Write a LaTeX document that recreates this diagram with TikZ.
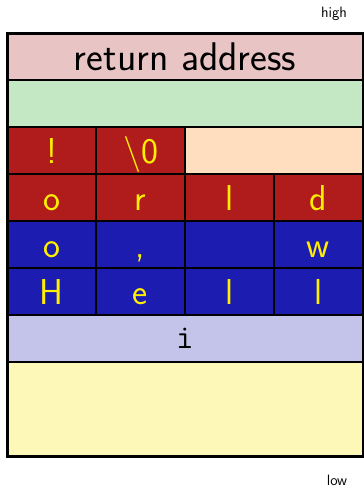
\documentclass[tikz,border=0pt]{standalone}
\usepackage{tikz}
\usetikzlibrary{positioning}

\definecolor{retpink}{RGB}{232,196,196}
\definecolor{padgreen}{RGB}{196,232,196}
\definecolor{peach}{RGB}{255,222,192}
\definecolor{lavender}{RGB}{196,196,234}
\definecolor{lightyellow}{RGB}{254,248,184}
\definecolor{darkred}{RGB}{176,28,28}
\definecolor{darkblue}{RGB}{28,28,176}
\definecolor{charyellow}{RGB}{255,238,0}

\begin{document}
\begin{tikzpicture}[x=1pt, y=-1pt,
    cell/.style={draw, line width=2.5pt, anchor=north west, inner sep=0pt, outer sep=0pt,
        minimum width=89pt, minimum height=47pt},
    wide/.style={cell, minimum width=356pt},
    redch/.style={cell, fill=darkred, text=charyellow, text height=25pt, text depth=0pt,
        font=\sffamily\fontsize{36}{36}\selectfont},
    bluech/.style={cell, fill=darkblue, text=charyellow, text height=25pt, text depth=0pt,
        font=\sffamily\fontsize{36}{36}\selectfont},
    tag/.style={inner sep=0pt, font=\sffamily\fontsize{15}{15}\selectfont}]

    \useasboundingbox (0,0) rectangle (364,490);

    % Labels
    \node[tag] (high) at (334,14) {high};
    \node[tag] (low) at (337,480) {low};

    % Top of frame
    \node[wide, fill=retpink, font=\sffamily\fontsize{40}{40}\selectfont] (ret) at (7,33) {return address};
    \node[wide, fill=padgreen] (pad) at (7,80) {};

    % Row: ! \0
    \node[redch] (bang) at (7,127) {!};
    \node[redch, right=0pt of bang] (nul) {\textbackslash 0};
    \node[cell, fill=peach, minimum width=178pt, right=0pt of nul] (spare) {};

    % Row: o r l d
    \node[redch] (o2) at (7,174) {o};
    \node[redch, right=0pt of o2] (r) {r};
    \node[redch, right=0pt of r] (l3) {l};
    \node[redch, right=0pt of l3] (d) {d};

    % Row: o , _ w
    \node[bluech] (o1) at (7,221) {o};
    \node[bluech, right=0pt of o1] (comma) {,};
    \node[bluech, right=0pt of comma] (blank) {};
    \node[bluech, right=0pt of blank] (w) {w};

    % Row: H e l l
    \node[bluech] (H) at (7,268) {H};
    \node[bluech, right=0pt of H] (e) {e};
    \node[bluech, right=0pt of e] (l1) {l};
    \node[bluech, right=0pt of l1] (l2) {l};

    % Local i
    \node[wide, fill=lavender, font=\ttfamily\fontsize{34}{34}\selectfont] (ivar) at (7,315) {i};

    % Below
    \node[wide, fill=lightyellow, minimum height=94pt] (below) at (7,362) {};

    % Outer frame
    \draw[line width=3pt] (ret.north west) rectangle (below.south east);

\end{tikzpicture}
\end{document}
